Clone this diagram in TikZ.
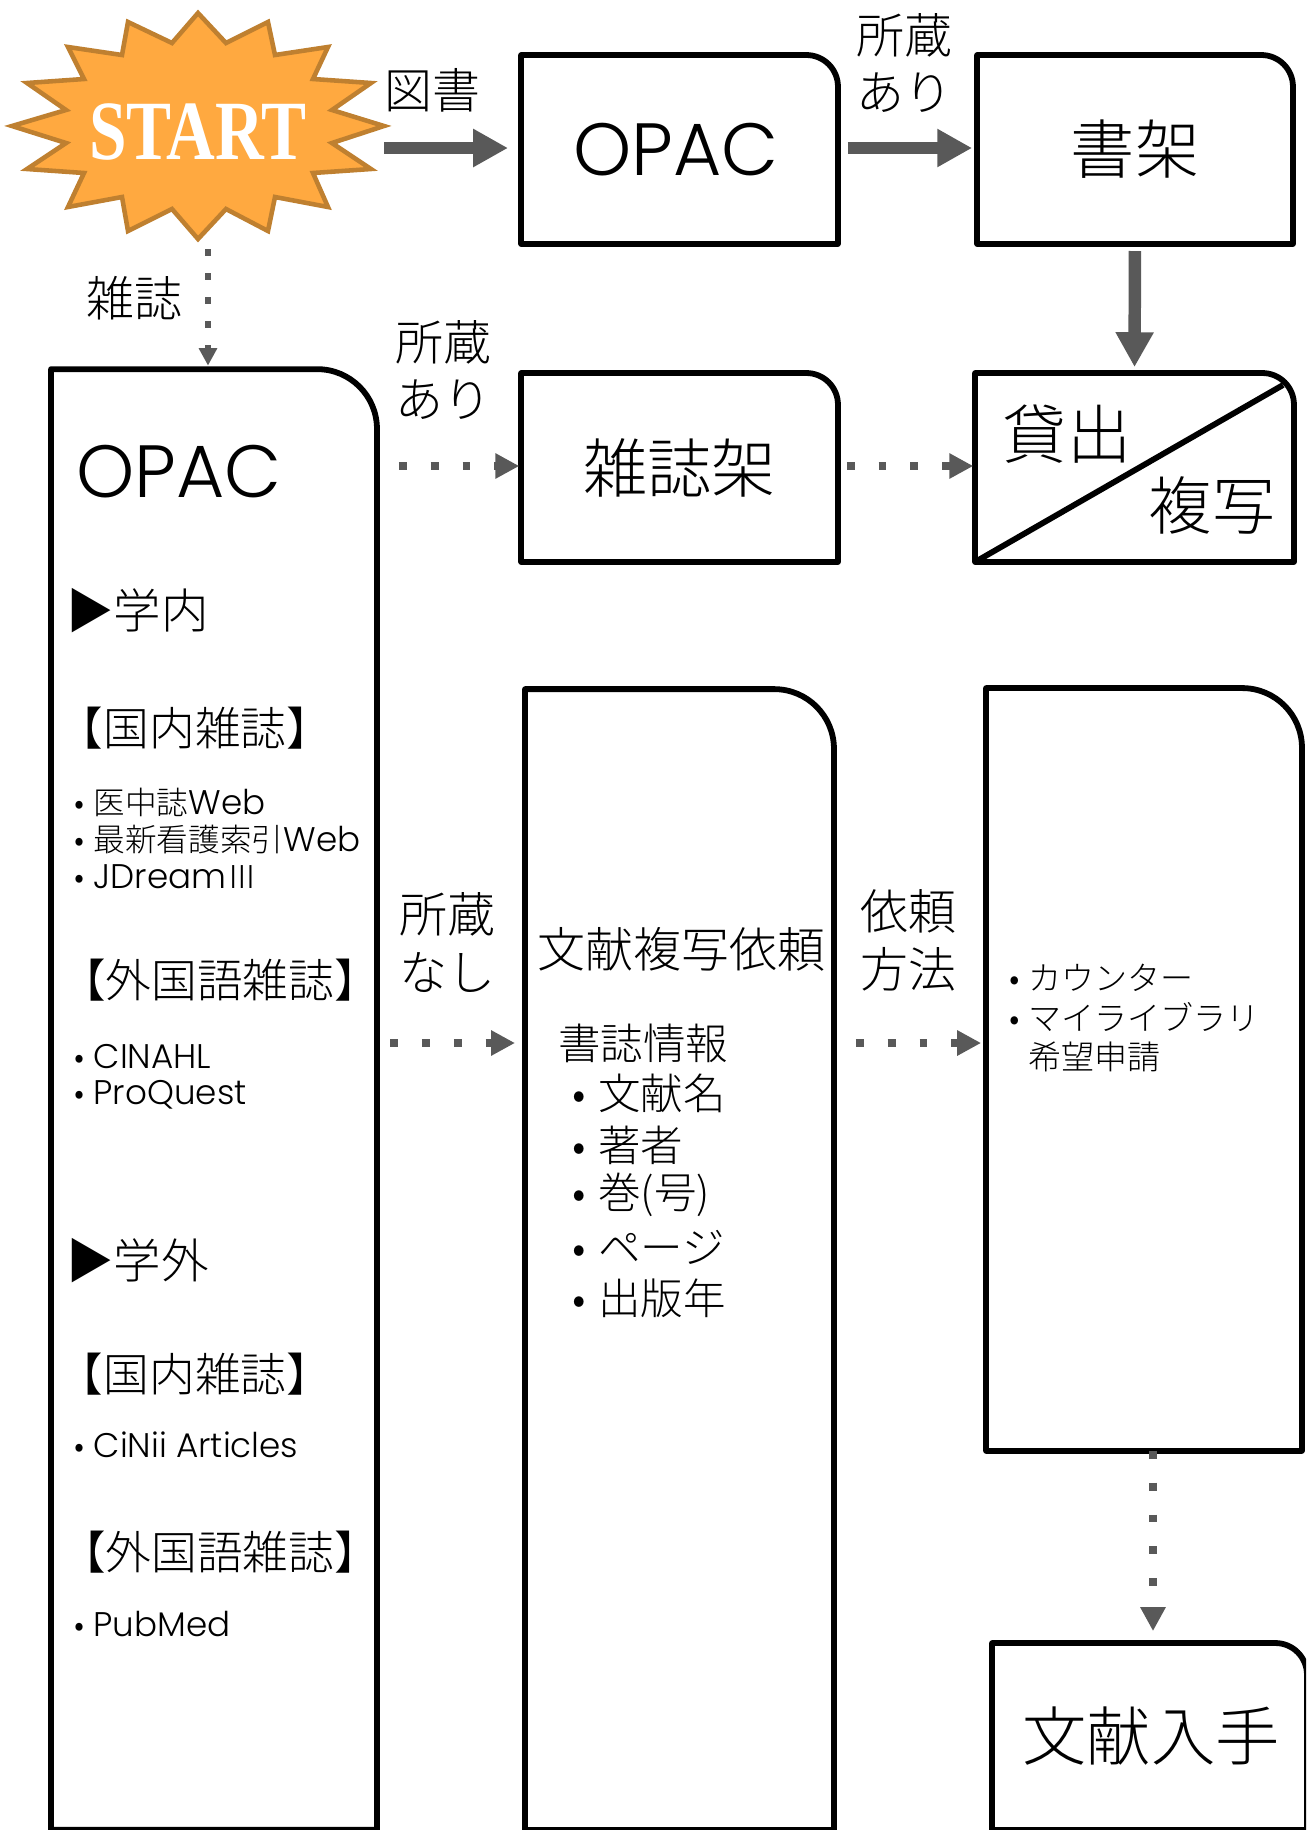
\documentclass[tikz,border=0pt]{standalone}
\usepackage{fontspec}
\setmainfont{Noto Sans CJK JP}[UprightFont=* Light]
\newfontfamily\lat{Poppins}[UprightFont=* Light, Scale=1.08]
\newfontfamily\starfont{Liberation Serif}
\usetikzlibrary{arrows.meta}
\newcommand{\dotA}{\makebox[14.8pt][l]{•}}
\newcommand{\dotB}{\makebox[11pt][l]{•}}
\tikzset{
  px/.style={x=0.02cm, y=-0.02cm},
  libbox/.style n args={3}{inner sep=0pt, outer sep=0pt, minimum width=#1, minimum height=#2,
    append after command={\pgfextra{
      \draw[line width=3.3pt, line join=round]
        (\tikzlastnode.south west) -- (\tikzlastnode.north west)
        [rounded corners=#3] -- (\tikzlastnode.north east) -- (\tikzlastnode.east)
        [sharp corners] -- (\tikzlastnode.south east) -- cycle;}}},
  bigtext/.style={inner sep=0pt, font=\fontsize{36.6}{44}\selectfont},
  labeltext/.style={inner sep=0pt, align=center, font=\fontsize{27.3}{33}\selectfont},
  headtext/.style={inner sep=0pt, anchor=center, font=\fontsize{26}{32}\selectfont},
  listtext/.style={inner sep=0pt, anchor=west, font=\fontsize{24.2}{28}\selectfont},
  smalltext/.style={inner sep=0pt, anchor=west, font=\fontsize{18}{22}\selectfont},
  thickarrow/.style={draw=arrowgrey, line width=7.1pt, -{Triangle[length=19.8pt, width=20.4pt]}},
  dotarrow/.style={draw=arrowgrey, line width=4.5pt, dash pattern=on 4.5pt off 13.6pt, -{Triangle[length=13.6pt, width=13.6pt]}}
}
\definecolor{arrowgrey}{HTML}{595959}
\definecolor{starfill}{HTML}{FFA940}
\definecolor{starline}{HTML}{BF8030}
\begin{document}
\begin{tikzpicture}[px]
  \useasboundingbox (0,0) rectangle (1306,1830);
  \clip (0,0) rectangle (1306,1830);
  % start star
  \draw[fill=starfill, draw=starline, line width=2.6pt, line join=miter]
    (198,13) -- (226,43) -- (268,22) -- (275,55) -- (328,47) -- (313,79) -- (371,83) -- (332,110)
    -- (384,126) -- (332,143) -- (371,169) -- (313,173) -- (328,207) -- (275,197) -- (268,231) -- (226,209)
    -- (198,239) -- (172,209) -- (128,231) -- (122,197) -- (68,207) -- (84,173) -- (27,169) -- (66,143)
    -- (12,126) -- (66,110) -- (27,83) -- (84,79) -- (68,47) -- (122,55) -- (128,22) -- (172,43) -- cycle;
  \node[inner sep=0pt, minimum width=7.44cm, minimum height=4.6cm, text=white,
    font=\starfont\bfseries\fontsize{48}{48}\selectfont] (start) at (198,132) {\scalebox{0.8}[1]{START}};
  % boxes
  \node[libbox={6.34cm}{3.78cm}{18pt}, bigtext] (opacbook) at (679.5,149.5) {\hspace*{-4pt}\raisebox{-2.6pt}{\lat\fontsize{39}{44}\selectfont OPAC}};
  \node[libbox={6.32cm}{3.78cm}{18pt}, bigtext] (shelf) at (1135,149.5) {書架};
  \node[libbox={6.34cm}{3.78cm}{18pt}, bigtext] (magshelf) at (679.5,467.5) {雑誌架};
  \node[libbox={6.38cm}{3.78cm}{18pt}] (loan) at (1134.5,467.5) {};
  \node[libbox={6.52cm}{29.22cm}{34pt}] (opacmag) at (214,1099.5) {};
  \node[libbox={6.18cm}{22.82cm}{34pt}] (request) at (679.5,1259.5) {};
  \node[libbox={6.32cm}{15.26cm}{34pt}] (method) at (1144,1069.5) {};
  \node[libbox={6.30cm}{3.74cm}{18pt}, bigtext] (obtain) at (1149.5,1736.5) {\hspace*{1.7pt}文献入手};
  % loan box
  \draw[line width=3.3pt] (loan.south west) -- (1283,385);
  \node[bigtext, font=\fontsize{36.5}{40}\selectfont] (lend) at (1067,434) {貸出};
  \node[bigtext, font=\fontsize{36}{40}\selectfont] (copy) at (1212,505) {複写};
  % connector rows
  \coordinate (rowA) at (0,148);
  \coordinate (rowB) at (0,466);
  \coordinate (rowC) at (0,1043);
  \coordinate (colA) at (208,0);
  \coordinate (colB) at (1153,0);
  % connectors
  \draw[thickarrow, shorten >=7.4pt] (start.east |- rowA) -- (opacbook.west |- rowA);
  \draw[thickarrow, shorten <=5.7pt, shorten >=2.8pt] (opacbook.east |- rowA) -- (shelf.west |- rowA);
  \draw[thickarrow, shorten <=4pt, shorten >=3.4pt] (shelf.south) -- (loan.north);
  \draw[draw=arrowgrey, line width=3.7pt, dash pattern=on 3.7pt off 10pt, -{Triangle[length=10pt, width=10pt]}, shorten <=1pt, shorten >=2pt]
    (start.south -| colA) -- (opacmag.north -| colA);
  \draw[dotarrow, shorten <=12.5pt, shorten >=1pt] (opacmag.east |- rowB) -- (magshelf.west |- rowB);
  \draw[dotarrow, shorten <=5pt, shorten >=1pt] (magshelf.east |- rowB) -- (loan.west |- rowB);
  \draw[dotarrow, shorten <=7.5pt, shorten >=5.7pt] (opacmag.east |- rowC) -- (request.west |- rowC);
  \draw[dotarrow, shorten <=12.5pt, shorten >=2.8pt] (request.east |- rowC) -- (method.west |- rowC);
  \draw[dotarrow, shorten >=6.8pt] (method.south -| colB) -- (obtain.north -| colB);
  % connector labels
  \node[labeltext] (book) at (432,90) {図書};
  \node[labeltext] (mag) at (134,298) {雑誌};
  \node[labeltext] (holdA) at (904,63) {所蔵\\あり};
  \node[labeltext] (holdB) at (443,370) {所蔵\\あり};
  \node[labeltext] (holdC) at (447,943) {所蔵\\なし};
  \node[labeltext] (how) at (908,940) {依頼\\方法};
  % journal box
  \node[bigtext, anchor=west] (opactext) at (76,472) {\lat\fontsize{39}{44}\selectfont OPAC};
  \node[headtext, anchor=west, font=\fontsize{27}{32}\selectfont] (inside) at (66,611) {▶学内};
  \node[headtext] (domA) at (195,728) {【国内雑誌】};
  \node[smalltext] (ichushi) at (74,802) {\dotB 医中誌{\lat Web}};
  \node[smalltext] (kango) at (74,840) {\dotB 最新看護索引{\lat Web}};
  \node[smalltext] (jdream) at (74,877) {\dotB{\lat JDream}Ⅲ};
  \node[headtext] (forA) at (220,980) {【外国語雑誌】};
  \node[smalltext] (cinahl) at (74,1057) {\dotB{\lat CINAHL}};
  \node[smalltext] (proquest) at (74,1095) {\dotB{\lat ProQuest}};
  \node[headtext, anchor=west, font=\fontsize{27}{32}\selectfont] (outside) at (66,1261) {▶学外};
  \node[headtext] (domB) at (195,1374) {【国内雑誌】};
  \node[smalltext] (cinii) at (74,1445) {\dotB{\lat CiNii Articles}};
  \node[headtext] (forB) at (220,1552) {【外国語雑誌】};
  \node[smalltext] (pubmed) at (74,1624) {\dotB{\lat PubMed}};
  % request box
  \node[labeltext] (reqhead) at (681.5,949) {文献複写依頼};
  \node[listtext] (biblio) at (558,1043) {書誌情報};
  \node[listtext] (title) at (572,1093) {\dotA 文献名};
  \node[listtext] (author) at (572,1145) {\dotA 著者};
  \node[listtext] (volume) at (572,1195) {\dotA 巻(号)};
  \node[listtext] (page) at (572,1247) {\dotA ページ};
  \node[listtext] (year) at (572,1298) {\dotA 出版年};
  % method box
  \node[smalltext, font=\fontsize{18.8}{22}\selectfont] (counter) at (1009,978) {\dotB カウンター};
  \node[smalltext, align=left, font=\fontsize{18.8}{22}\selectfont] (mylib) at (1009,1037) {\dotB マイライブラリ\\\hspace*{11pt}希望申請};
\end{tikzpicture}
\end{document}
